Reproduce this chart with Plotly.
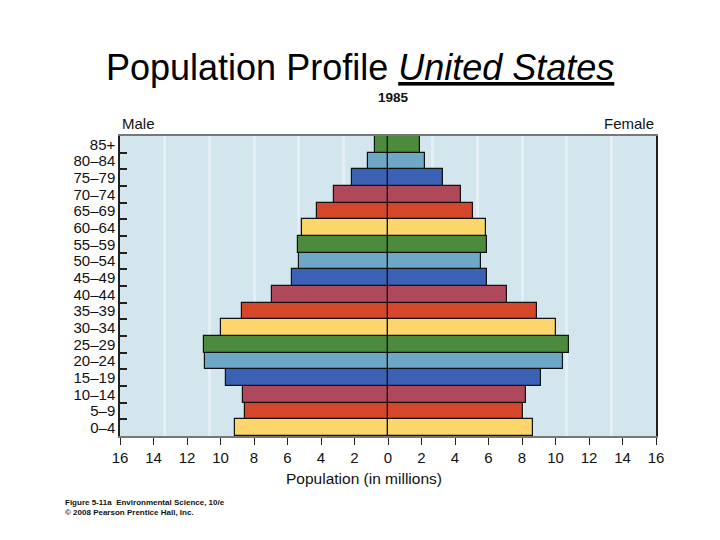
import plotly.graph_objects as go

age_groups = ["0\u20134", "5\u20139", "10\u201314", "15\u201319", "20\u201324", "25\u201329",
              "30\u201334", "35\u201339", "40\u201344", "45\u201349", "50\u201354", "55\u201359",
              "60\u201364", "65\u201369", "70\u201374", "75\u201379", "80\u201384", "85+"]
male = [9.15, 8.52, 8.64, 9.67, 10.9, 10.99, 9.99, 8.7, 6.93, 5.71, 5.31, 5.36,
        5.12, 4.22, 3.2, 2.15, 1.21, 0.78]
female = [8.67, 8.08, 8.22, 9.13, 10.47, 10.81, 10.01, 8.91, 7.12, 5.89, 5.57, 5.89,
          5.83, 5.09, 4.36, 3.3, 2.23, 1.91]
palette = ["#fdd66b", "#d4472b", "#b0485b", "#3b61b4", "#6ea8c6", "#4c8b3e"]
x_ticks = list(range(-16, 17, 2))
x_tick_text = [str(abs(v)) for v in x_ticks]

colors = [palette[i % 6] for i in range(len(age_groups))]
ypos = list(range(len(age_groups)))

fig = go.Figure()
fig.add_trace(go.Bar(y=ypos, x=[-v for v in male], orientation="h", marker=dict(color=colors, line=dict(color="#111", width=1.2)),
                     width=1.0, showlegend=False, hoverinfo="skip"))
fig.add_trace(go.Bar(y=ypos, x=female, orientation="h", marker=dict(color=colors, line=dict(color="#111", width=1.2)),
                     width=1.0, showlegend=False, hoverinfo="skip"))

stripes = [k * 16 / 6 for k in range(-6, 7)]

fig.update_layout(
    width=712, height=532,
    margin=dict(l=112, r=64, t=128, b=104),
    paper_bgcolor="white", plot_bgcolor="#d3e6ee",
    barmode="overlay", bargap=0,
    font=dict(family="Liberation Sans, Arial, sans-serif", color="#111"),
    xaxis=dict(range=[-16, 16], tickmode="array", tickvals=x_ticks, ticktext=x_tick_text,
               ticks="outside", ticklen=7, tickcolor="#222", tickwidth=1.2,
               tickfont=dict(size=15, color="#111"),
               showgrid=False, zeroline=True, zerolinecolor="#111", zerolinewidth=1.5,
               showline=True, linecolor="#777", linewidth=1.5, mirror=True,
               minor=dict(tickmode="array", tickvals=stripes, showgrid=True, gridcolor="#e4eff5", gridwidth=3, ticks="")),
    yaxis=dict(range=[-0.5, len(age_groups) - 0.5], tickmode="array", tickvals=ypos, ticktext=age_groups,
               ticks="", tickfont=dict(size=15, color="#111"), showgrid=False, zeroline=False,
               showline=True, linecolor="#222", linewidth=1.5, mirror=True,
               minor=dict(tickmode="array", tickvals=[i + 0.5 for i in range(len(age_groups) - 1)],
                          ticks="inside", ticklen=7, tickcolor="#222", tickwidth=1.5, showgrid=False)),
)

annotations = [
    dict(text="Population Profile <i><span style='text-decoration:underline'>United States</span></i>",
         x=0.448, y=1.227, xref="paper", yref="paper", showarrow=False,
         font=dict(size=36, color="#000"), xanchor="center", yanchor="middle"),
    dict(text="<b>1985</b>", x=0.51, y=1.13, xref="paper", yref="paper", showarrow=False,
         font=dict(size=13.5), xanchor="center", yanchor="middle"),
    dict(text="Male", x=0.0, y=1.04, xref="paper", yref="paper", showarrow=False,
         font=dict(size=15), xanchor="left", yanchor="middle"),
    dict(text="Female", x=1.0, y=1.04, xref="paper", yref="paper", showarrow=False,
         font=dict(size=15), xanchor="right", yanchor="middle"),
    dict(text="Population (in millions)", x=0.455, y=-0.14, xref="paper", yref="paper", showarrow=False,
         font=dict(size=15.5), xanchor="center", yanchor="middle"),
    dict(text="<b>Figure 5-11a  Environmental Science, 10/e</b><br><b>\u00a9 2008 Pearson Prentice Hall, Inc.</b>",
         x=-0.107, y=-0.2, xref="paper", yref="paper", showarrow=False, align="left",
         font=dict(size=8, family="Liberation Sans Narrow, Arial Narrow, sans-serif"),
         xanchor="left", yanchor="top"),
]
fig.update_layout(annotations=annotations)

fig.write_html("out.html")
